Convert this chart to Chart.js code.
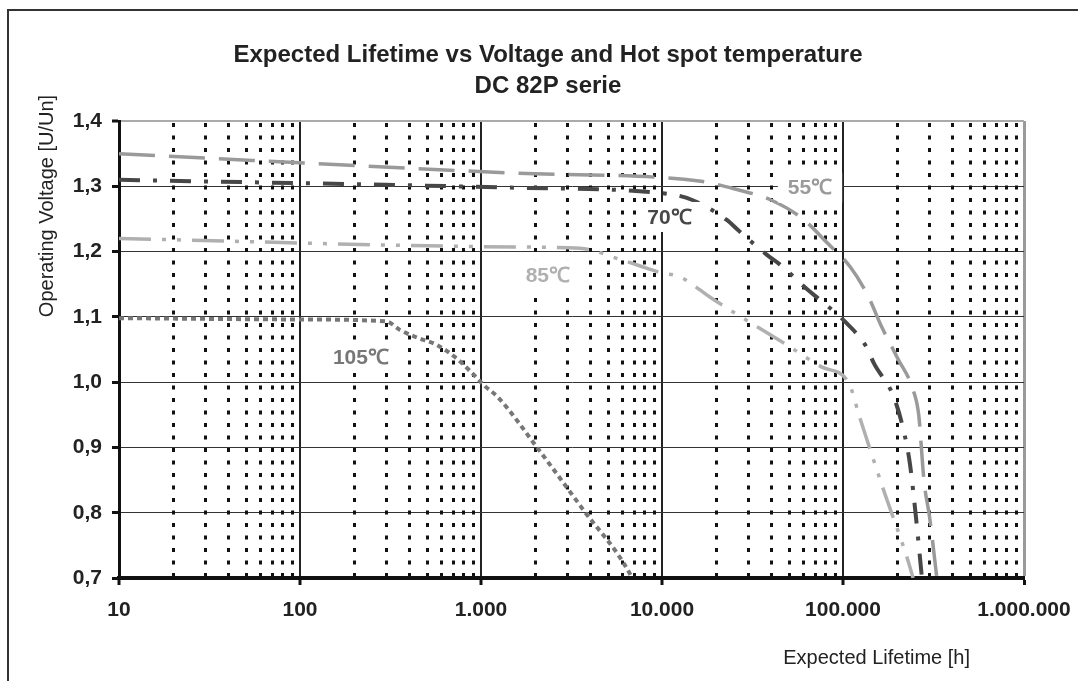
<!DOCTYPE html>
<html>
<head>
<meta charset="utf-8">
<title>Expected Lifetime vs Voltage</title>
<script src="https://cdn.jsdelivr.net/npm/chart.js@4"></script>
<style>
  html, body { margin: 0; padding: 0; background: #fff; }
  #wrap { width: 1078px; height: 681px; }
</style>
</head>
<body>
<div id="wrap"><canvas id="chart" width="1078" height="681"></canvas></div>
<script>
// lifetime [h] and voltage [U/Un]
const hours55 = [10, 1600, 16000, 26000, 40000, 60000, 82000, 110000, 137000, 164000, 200000, 244000, 262000, 280000, 302000, 330000];
const volt55  = [1.35, 1.32, 1.308, 1.295, 1.279, 1.25, 1.213, 1.176, 1.133, 1.084, 1.037, 0.988, 0.95, 0.85, 0.79, 0.70];

const hours70 = [10, 1450, 11000, 14700, 22900, 26300, 38000, 44900, 64100, 74700, 105000, 136000, 148000, 189000, 214000, 234000, 253000, 273000];
const volt70  = [1.31, 1.298, 1.288, 1.279, 1.248, 1.233, 1.195, 1.18, 1.141, 1.126, 1.09, 1.052, 1.029, 0.98, 0.931, 0.876, 0.793, 0.70];

const hours85 = [10, 1540, 3520, 6010, 7360, 9740, 12600, 18900, 33900, 50900, 76600, 107000, 124000, 166000, 226000, 244000];
const volt85  = [1.22, 1.207, 1.205, 1.187, 1.179, 1.168, 1.161, 1.128, 1.084, 1.054, 1.023, 1.0, 0.945, 0.838, 0.731, 0.70];

const hours105 = [10, 100, 300, 357, 445, 571, 736, 892, 1050, 1240, 2040, 3660, 6600, 6800];
const volt105  = [1.098, 1.096, 1.093, 1.08, 1.068, 1.057, 1.036, 1.014, 0.994, 0.977, 0.90, 0.805, 0.708, 0.70];

const xTicks = [10, 100, 1000, 10000, 100000, 1000000];
const xTickLabels = ['10', '100', '1.000', '10.000', '100.000', '1.000.000'];
const yTicks = [0.7, 0.8, 0.9, 1.0, 1.1, 1.2, 1.3, 1.4];
const yTickLabels = ['0,7', '0,8', '0,9', '1,0', '1,1', '1,2', '1,3', '1,4'];

const tempLabels = ['55\u2103', '70\u2103', '85\u2103', '105\u2103'];
const labelHours = [65700, 11000, 2340, 217];
const labelVolts = [1.298, 1.253, 1.164, 1.038];

const titleLines = ['Expected Lifetime vs Voltage and Hot spot temperature', 'DC 82P serie'];
const yTitle = 'Operating Voltage [U/Un]';
const xTitle = 'Expected Lifetime [h]';

const FONT = "'Liberation Sans', Arial, sans-serif";
const labelColors = ['#9a9a9a', '#474747', '#b0b0b0', '#777777'];

function pts(xs, ys) {
  return xs.map((x, i) => ({ x: x, y: ys[i] }));
}

// dotted minor verticals, curve labels, title and frame
const decor = {
  id: 'decor',
  beforeDatasetsDraw(chart) {
    const c = chart.ctx;
    const xs = chart.scales.x;
    const a = chart.chartArea;
    c.save();
    c.beginPath();
    c.rect(a.left, a.top, a.right - a.left, a.bottom - a.top);
    c.clip();
    c.strokeStyle = '#111';
    c.lineWidth = 3;
    c.setLineDash([4, 8.5]);
    for (let d = 10; d < 1000000; d *= 10) {
      for (let m = 2; m <= 9; m++) {
        const px = Math.round(xs.getPixelForValue(d * m)) + 0.5;
        c.beginPath();
        c.moveTo(px, a.top + 2);
        c.lineTo(px, a.bottom);
        c.stroke();
      }
    }
    c.restore();
  },
  afterDatasetsDraw(chart) {
    const c = chart.ctx;
    const xs = chart.scales.x, ys = chart.scales.y;
    c.save();
    c.font = 'bold 21px ' + FONT;
    c.textAlign = 'center';
    c.textBaseline = 'middle';
    tempLabels.forEach((t, i) => {
      const px = xs.getPixelForValue(labelHours[i]);
      const py = ys.getPixelForValue(labelVolts[i]);
      const w = c.measureText(t).width;
      c.fillStyle = '#fff';
      c.fillRect(px - w / 2 - 10, py - 15, w + 20, 30);
      c.fillStyle = labelColors[i];
      c.fillText(t, px, py + 1);
    });
    c.restore();
  },
  afterDraw(chart) {
    const c = chart.ctx;
    c.save();
    // outer frame
    c.strokeStyle = '#333';
    c.lineWidth = 2;
    c.beginPath();
    c.moveTo(8, 681);
    c.lineTo(8, 10);
    c.lineTo(1078, 10);
    c.stroke();
    // title
    c.fillStyle = '#222';
    c.textAlign = 'center';
    c.textBaseline = 'middle';
    c.font = 'bold 24px ' + FONT;
    c.fillText(titleLines[0], 548, 55);
    c.fillText(titleLines[1], 548, 86);
    // axis titles
    c.font = '20px ' + FONT;
    c.textAlign = 'right';
    c.fillText(xTitle, 970, 658);
    c.translate(47, 206);
    c.rotate(-Math.PI / 2);
    c.textAlign = 'center';
    c.fillText(yTitle, 0, 0);
    c.restore();
  }
};

new Chart(document.getElementById('chart').getContext('2d'), {
  type: 'line',
  data: {
    datasets: [
      {
        label: tempLabels[0],
        data: pts(hours55, volt55),
        borderColor: '#9a9a9a',
        borderWidth: 3.5,
        borderDash: [36, 14],
        cubicInterpolationMode: 'monotone',
        pointRadius: 0
      },
      {
        label: tempLabels[1],
        data: pts(hours70, volt70),
        borderColor: '#474747',
        borderWidth: 4,
        borderDash: [21, 13, 4, 13],
        cubicInterpolationMode: 'monotone',
        pointRadius: 0
      },
      {
        label: tempLabels[2],
        data: pts(hours85, volt85),
        borderColor: '#b0b0b0',
        borderWidth: 3.5,
        borderDash: [32, 11, 4, 11, 4, 11],
        cubicInterpolationMode: 'monotone',
        pointRadius: 0
      },
      {
        label: tempLabels[3],
        data: pts(hours105, volt105),
        borderColor: '#777777',
        borderWidth: 4,
        borderDash: [5, 4],
        cubicInterpolationMode: 'monotone',
        pointRadius: 0
      }
    ]
  },
  options: {
    responsive: false,
    animation: false,
    events: [],
    layout: { padding: { top: 121, right: 54, left: 0, bottom: 0 } },
    plugins: {
      legend: { display: false },
      tooltip: { enabled: false },
      title: { display: false }
    },
    scales: {
      x: {
        type: 'logarithmic',
        min: 10,
        max: 1000000,
        afterBuildTicks: s => { s.ticks = xTicks.map(v => ({ value: v })); },
        afterFit: s => { s.height = 103; s.paddingLeft = 0; s.paddingRight = 0; },
        ticks: {
          autoSkip: false,
          maxRotation: 0,
          minRotation: 0,
          padding: 13,
          color: '#222',
          font: { family: FONT, size: 21, weight: 'bold' },
          callback: (v, i) => xTickLabels[i]
        },
        grid: {
          color: c => (c.tick && c.tick.value === 1000000 ? '#9a9a9a' : '#222'),
          lineWidth: c => (c.tick && c.tick.value === 1000000 ? 3 : 2),
          tickColor: '#111',
          tickWidth: 3,
          tickLength: 7
        },
        border: { color: '#111', width: 4 }
      },
      y: {
        type: 'linear',
        min: 0.7,
        max: 1.4,
        afterBuildTicks: s => { s.ticks = yTicks.map(v => ({ value: v })); },
        afterFit: s => { s.width = 119; },
        ticks: {
          padding: 10,
          color: '#222',
          font: { family: FONT, size: 21, weight: 'bold' },
          callback: (v, i) => yTickLabels[i]
        },
        grid: {
          color: c => (c.tick && c.tick.value === 1.4 ? '#aaaaaa' : '#333'),
          lineWidth: c => (c.tick && c.tick.value === 1.4 ? 2 : 1),
          tickColor: '#111',
          tickWidth: 3,
          tickLength: 7
        },
        border: { color: '#111', width: 3 }
      }
    }
  },
  plugins: [decor]
});
</script>
</body>
</html>
